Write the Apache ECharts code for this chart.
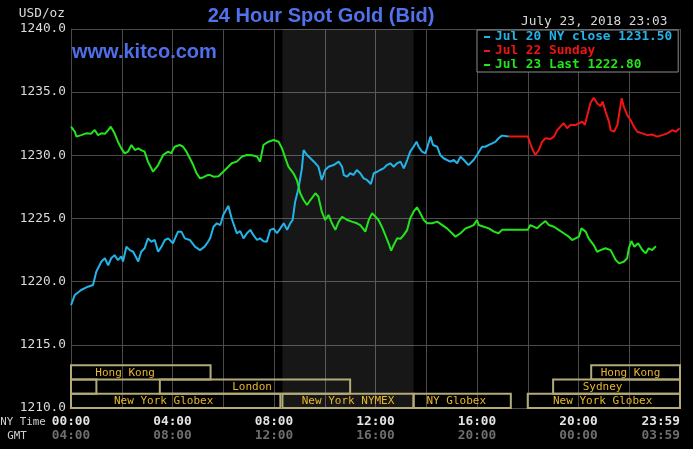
<!DOCTYPE html>
<html>
<head>
<meta charset="utf-8">
<script src="https://cdn.jsdelivr.net/npm/echarts@6/dist/echarts.min.js"></script>
<style>
html,body{margin:0;padding:0;background:#000;}
#chart{width:693px;height:449px;}
</style>
</head>
<body>
<div id="chart"></div>
<script>
// ---- tick labels ----
const nyTicks  = ['00:00','04:00','08:00','12:00','16:00','20:00','23:59'];
const gmtTicks = ['04:00','08:00','12:00','16:00','20:00','00:00','03:59'];

// ---- series (time in minutes from 00:00 NY time, price USD/oz) ----
const jul20Name = 'Jul 20 NY close 1231.50';
const jul20Time = [0,9,24,40,52,56,60,72,80,88,95,103,111,119,123,131,139,147,159,166,174,182,190,198,206,214,222,230,241,253,261,269,281,293,305,316,324,329,337,345,353,360,372,380,388,392,400,408,416,424,431,440,447,455,463,471,479,487,495,503,511,518,524,530,538,546,550,558,566,570,578,585,593,601,609,621,633,641,645,653,660,668,676,684,692,700,709,716,724,731,739,747,755,763,771,779,787,795,802,810,817,822,830,838,843,850,856,866,873,881,889,897,905,913,921,929,940,952,960,972,980,988,996,1004,1011,1019,1035];
const jul20Val  = [1218.15,1218.95,1219.34,1219.6,1219.74,1220.27,1220.8,1221.6,1221.85,1221.3,1221.85,1222.1,1221.7,1222.0,1221.6,1222.77,1222.5,1222.37,1221.6,1222.37,1222.64,1223.43,1223.16,1223.3,1222.37,1222.77,1223.3,1223.43,1223.04,1223.96,1223.96,1223.43,1223.3,1222.77,1222.5,1222.77,1223.16,1223.43,1224.35,1224.62,1224.48,1225.28,1226.0,1225.0,1224.22,1223.83,1224.0,1223.43,1223.83,1224.1,1223.7,1223.3,1223.43,1223.2,1223.16,1224.1,1224.2,1223.83,1224.22,1224.62,1224.1,1224.6,1224.88,1226.33,1227.39,1228.97,1230.42,1230.03,1229.77,1229.9,1229.37,1229.1,1228.05,1228.84,1229.1,1229.23,1229.5,1229.1,1228.44,1228.31,1228.58,1228.45,1228.84,1228.58,1228.18,1228.05,1227.73,1228.58,1228.7,1228.84,1228.97,1229.23,1229.37,1229.1,1229.37,1229.5,1228.97,1229.63,1230.29,1230.68,1231.08,1230.68,1230.29,1230.16,1230.7,1231.48,1230.82,1230.68,1230.03,1229.77,1229.63,1229.5,1229.63,1229.37,1229.9,1229.63,1229.23,1229.63,1230.03,1230.68,1230.68,1230.82,1230.95,1231.08,1231.35,1231.56,1231.5];

const jul22Name = 'Jul 22 Sunday';
const jul22Time = [1035,1080,1086,1092,1098,1106,1114,1122,1134,1142,1150,1157,1165,1173,1181,1193,1201,1209,1215,1221,1228,1236,1244,1252,1257,1264,1272,1276,1284,1292,1297,1302,1307,1315,1323,1331,1339,1351,1363,1374,1386,1398,1410,1422,1430,1439];
const jul22Val  = [1231.5,1231.5,1230.95,1230.42,1230.03,1230.42,1231.08,1231.35,1231.3,1231.48,1232.0,1232.27,1232.54,1232.14,1232.4,1232.4,1232.54,1232.67,1232.4,1233.2,1234.12,1234.56,1234.12,1233.9,1234.25,1233.46,1232.67,1232.0,1231.87,1232.4,1233.46,1234.51,1233.85,1233.2,1232.8,1232.27,1231.87,1231.74,1231.6,1231.65,1231.48,1231.6,1231.74,1232.0,1231.87,1232.14];

const jul23Name = 'Jul 23 Last 1222.80';
const jul23Time = [0,9,13,24,36,47,56,64,72,80,88,94,103,111,119,127,135,143,151,159,166,174,182,194,206,218,230,237,245,257,265,273,281,289,297,305,312,323,329,337,349,360,372,380,392,404,416,428,440,447,455,467,479,483,491,499,507,514,526,534,542,550,558,566,578,585,593,601,609,617,625,633,641,645,653,664,676,684,696,704,712,720,727,735,743,751,757,763,771,779,787,795,802,810,818,826,834,842,854,866,878,889,901,909,921,933,944,952,960,964,976,988,1000,1011,1019,1080,1086,1094,1102,1110,1122,1130,1142,1153,1165,1177,1185,1193,1201,1207,1217,1224,1236,1244,1252,1264,1276,1280,1288,1296,1307,1315,1319,1325,1332,1341,1351,1359,1366,1374,1383];
const jul23Val  = [1232.27,1231.87,1231.48,1231.6,1231.74,1231.7,1232.0,1231.6,1231.74,1231.7,1232.0,1232.27,1231.74,1231.08,1230.55,1230.16,1230.3,1230.82,1230.42,1230.55,1230.42,1230.29,1229.5,1228.7,1229.23,1230.03,1230.29,1230.16,1230.68,1230.82,1230.68,1230.29,1229.77,1229.23,1228.58,1228.18,1228.25,1228.44,1228.44,1228.31,1228.35,1228.7,1229.1,1229.37,1229.5,1229.9,1230.03,1230.0,1229.9,1229.5,1230.82,1231.08,1231.21,1231.35,1231.08,1230.55,1229.77,1229.1,1228.58,1228.05,1227.0,1226.46,1226.07,1226.46,1227.0,1226.73,1225.54,1224.88,1225.28,1224.62,1224.1,1224.75,1225.14,1225.28,1224.88,1224.75,1224.62,1224.48,1223.96,1224.88,1225.41,1225.14,1224.88,1224.35,1223.7,1223.04,1222.45,1222.9,1223.43,1223.4,1223.7,1224.1,1225.01,1225.54,1225.89,1225.41,1224.88,1224.62,1224.62,1224.75,1224.48,1224.22,1223.83,1223.56,1223.83,1224.22,1224.35,1224.48,1224.88,1224.48,1224.35,1224.22,1223.96,1223.83,1224.1,1224.1,1224.48,1224.35,1224.22,1224.48,1224.8,1224.48,1224.35,1224.1,1223.83,1223.56,1223.3,1223.43,1223.56,1224.22,1223.96,1223.43,1222.9,1222.37,1222.5,1222.64,1222.5,1222.37,1221.71,1221.45,1221.58,1221.85,1222.64,1223.22,1222.77,1223.04,1222.5,1222.24,1222.64,1222.5,1222.8];

// ---- trading sessions (minutes NY time) ----
const sessionNames   = ['Hong Kong','','London','New York Globex','New York NYMEX','NY Globex','New York Globex','Sydney','Hong Kong'];
const sessionStart   = [0,   0,   210, 0,   500, 810,  1080, 1140, 1230];
const sessionEnd     = [330, 60,  660, 495, 810, 1040, 1440, 1440, 1440];
const sessionRow     = [2,   1,   1,   0,   0,   0,    0,    1,    2];
const sessionLabelAt = [128, 30,  428, 219, 655, 911,  1257, 1257, 1323];

// NYMEX floor session shading
const nymexStart = 500, nymexEnd = 810;

const zip = (t, v) => t.map((x, i) => [x, v[i]]);

const MONO = 'DejaVu Sans Mono';
const COL_BLUE = '#22b4e8', COL_RED = '#f01414', COL_GREEN = '#24e41c';
const ROW = 1.13;

const chart = echarts.init(document.getElementById('chart'), null, {renderer: 'canvas'});
chart.setOption({
  backgroundColor: '#000',
  animation: false,
  title: [
    { text: '24 Hour Spot Gold (Bid)', left: 321, top: 6, textAlign: 'center', padding: 0,
      textStyle: { color: '#5072ea', fontFamily: 'Liberation Sans', fontSize: 20, fontWeight: 'bold' } },
    { text: 'www.kitco.com', left: 72, top: 42, padding: 0,
      textStyle: { color: '#4f6fea', fontFamily: 'Liberation Sans', fontSize: 20, fontWeight: 'bold' } },
    { text: 'July 23, 2018 23:03', left: 521, top: 15, padding: 0,
      textStyle: { color: '#d8d8d8', fontFamily: MONO, fontSize: 12.8, fontWeight: 'normal' } }
  ],
  legend: {
    left: 477, top: 30, orient: 'vertical',
    backgroundColor: '#000', borderColor: '#8a8a8a', borderWidth: 1, borderRadius: 0,
    padding: [0, 6, 0, 7], itemGap: 0, itemWidth: 6, itemHeight: 2, icon: 'rect',
    selectedMode: false, z: 10,
    textStyle: { fontFamily: MONO, fontSize: 12.8, fontWeight: 'bold', lineHeight: 14 },
    data: [
      { name: jul20Name, textStyle: { color: COL_BLUE } },
      { name: jul22Name, textStyle: { color: COL_RED } },
      { name: jul23Name, textStyle: { color: COL_GREEN } }
    ]
  },
  grid: { left: 71, right: 13, top: 29, bottom: 41, containLabel: false, outerBoundsMode: 'none' },
  xAxis: {
    type: 'value', min: 0, max: 1440, interval: 120,
    name: '{a|NY Time}\n{b|GMT}', nameLocation: 'start', nameGap: 23,
    nameTextStyle: { align: 'right', verticalAlign: 'top', padding: [7, 0, 0, 0],
      rich: { a: { fontFamily: MONO, fontSize: 10.8, color: '#cfcfcf', lineHeight: 14 },
              b: { fontFamily: MONO, fontSize: 10.8, color: '#cfcfcf', lineHeight: 14, padding: [0, 19, 0, 0] } } },
    axisLine: { show: false },
    axisTick: { show: false },
    splitLine: { show: true, lineStyle: { color: '#4a4a4a', width: 1 } },
    axisLabel: {
      margin: 7, alignMaxLabel: 'right',
      formatter: function (v) {
        if (v % 240 !== 0) return '';
        const i = v / 240;
        return '{ny|' + nyTicks[i] + '}\n{gmt|' + gmtTicks[i] + '}';
      },
      rich: {
        ny: { fontFamily: MONO, fontSize: 12.8, fontWeight: 'bold', color: '#e2e2e2', lineHeight: 14 },
        gmt: { fontFamily: MONO, fontSize: 12.8, fontWeight: 'bold', color: '#6e6e6e', lineHeight: 14 }
      }
    }
  },
  yAxis: {
    type: 'value', min: 1210, max: 1240, interval: 5,
    name: 'USD/oz', nameLocation: 'end', nameGap: 9,
    nameTextStyle: { align: 'right', color: '#dcdcdc', fontFamily: MONO, fontSize: 12.8, padding: [0, 6, 0, 0] },
    axisLine: { show: true, lineStyle: { color: '#4a4a4a' } },
    axisTick: { show: false },
    splitLine: { show: true, lineStyle: { color: '#4a4a4a', width: 1 } },
    axisLabel: { margin: 5, color: '#dcdcdc', fontFamily: MONO, fontSize: 12.8,
      formatter: v => v.toFixed(1) }
  },
  series: [
    {
      name: jul20Name, type: 'line', data: zip(jul20Time, jul20Val),
      showSymbol: false, color: COL_BLUE, lineStyle: { width: 2, color: COL_BLUE }, z: 3,
      markArea: { silent: true, itemStyle: { color: 'rgba(255,255,255,0.09)' },
        data: [[{ xAxis: nymexStart }, { xAxis: nymexEnd }]] }
    },
    {
      name: jul22Name, type: 'line', data: zip(jul22Time, jul22Val),
      showSymbol: false, color: COL_RED, lineStyle: { width: 2, color: COL_RED }, z: 3
    },
    {
      name: jul23Name, type: 'line', data: zip(jul23Time, jul23Val),
      showSymbol: false, color: COL_GREEN, lineStyle: { width: 2, color: COL_GREEN }, z: 4
    },
    {
      name: 'sessions', type: 'custom', silent: true, z: 5,
      data: sessionStart.map((s, i) => [s, sessionEnd[i], sessionRow[i], sessionLabelAt[i]]),
      encode: { x: [0, 1], y: 2 },
      renderItem: function (params, api) {
        const s = api.value(0), e = api.value(1), row = api.value(2), lc = api.value(3);
        const yb = 1210 + row * ROW, yt = yb + ROW;
        const p1 = api.coord([s, yt]), p2 = api.coord([e, yb]);
        const children = [{
          type: 'rect',
          shape: { x: p1[0], y: p1[1], width: p2[0] - p1[0], height: p2[1] - p1[1] },
          style: { fill: 'none', stroke: '#b3aa78', lineWidth: 2 }
        }];
        const name = sessionNames[params.dataIndex];
        if (name) {
          const pc = api.coord([lc, yb + ROW / 2]);
          children.push({ type: 'text', style: { text: name, x: pc[0], y: pc[1] + 0.5,
            align: 'center', verticalAlign: 'middle', fill: '#e8b62c',
            font: '11px "DejaVu Sans Mono"' } });
        }
        return { type: 'group', children: children };
      }
    }
  ]
});
</script>
</body>
</html>
